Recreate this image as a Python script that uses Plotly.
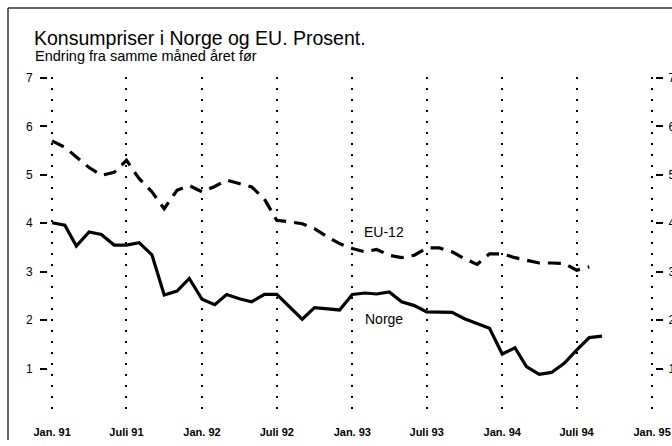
import pandas as pd
import plotly.graph_objects as go

# ---- data ----
start_month = "1991-01-01"
norge = [4.01, 3.96, 3.53, 3.82, 3.77, 3.55, 3.55, 3.60, 3.35, 2.52, 2.60, 2.86,
         2.43, 2.32, 2.53, 2.44, 2.38, 2.53, 2.53, 2.27, 2.02, 2.26, 2.24, 2.21,
         2.53, 2.56, 2.54, 2.58, 2.38, 2.30, 2.17, 2.17, 2.16, 2.03, 1.92, 1.83,
         1.30, 1.43, 1.04, 0.88, 0.92, 1.11, 1.38, 1.64, 1.67]
eu12 = [5.70, 5.57, 5.37, 5.15, 4.99, 5.05, 5.30, 4.92, 4.65, 4.30, 4.68, 4.78,
        4.65, 4.76, 4.89, 4.82, 4.75, 4.50, 4.06, 4.03, 3.99, 3.89, 3.72, 3.58,
        3.48, 3.41, 3.46, 3.34, 3.29, 3.34, 3.49, 3.49, 3.41, 3.27, 3.15, 3.37,
        3.37, 3.29, 3.24, 3.18, 3.18, 3.17, 3.03, 3.10]
tick_dates = ["1991-01-01", "1991-07-01", "1992-01-01", "1992-07-01", "1993-01-01",
              "1993-07-01", "1994-01-01", "1994-07-01", "1995-01-01"]
tick_labels = ["Jan. 91", "Juli 91", "Jan. 92", "Juli 92", "Jan. 93",
               "Juli 93", "Jan. 94", "Juli 94", "Jan. 95"]
y_ticks = [1, 2, 3, 4, 5, 6, 7]

x_norge = pd.date_range(start_month, periods=len(norge), freq="MS")
x_eu = pd.date_range(start_month, periods=len(eu12), freq="MS")

FONT = "Liberation Sans, Arial, sans-serif"
W, H = 672, 446
L, R, T, B = 48, 17, 77, 29
pw, ph = W - L - R, H - T - B

def px_x(p):
    return (p - L) / pw

def px_y(p):
    return (H - B - p) / ph

fig = go.Figure()
fig.add_trace(go.Scatter(x=x_eu, y=eu12, mode="lines", name="EU-12",
                         line=dict(color="black", width=3.2, dash="13px,8px"),
                         showlegend=False))
fig.add_trace(go.Scatter(x=x_norge, y=norge, mode="lines", name="Norge",
                         line=dict(color="black", width=3.2),
                         showlegend=False))
# invisible trace for right axis
fig.add_trace(go.Scatter(x=[x_norge[0]], y=[norge[0]], yaxis="y2", mode="lines",
                         line=dict(width=0), hoverinfo="skip", showlegend=False))

fig.update_layout(
    width=W, height=H,
    margin=dict(l=L, r=R, t=T, b=B, autoexpand=False),
    paper_bgcolor="white", plot_bgcolor="white",
    font=dict(family=FONT, color="black"),
    xaxis=dict(
        type="date", range=["1990-12-22", "1995-01-08"],
        tickmode="array", tickvals=tick_dates, ticktext=tick_labels,
        ticks="", showline=False, zeroline=False,
        ticklabelstandoff=7,
        showgrid=True, gridcolor="black", gridwidth=2, griddash="2px,9px",
        tickfont=dict(family=FONT, size=11, color="black", weight="bold"),
    ),
    yaxis=dict(
        range=[0, 7.02], tickmode="array", tickvals=y_ticks,
        ticks="outside", ticklen=7, tickwidth=2, tickcolor="black",
        ticklabelstandoff=5,
        showgrid=False, zeroline=False, showline=False,
        tickfont=dict(family=FONT, size=12, color="black"),
    ),
    yaxis2=dict(
        range=[0, 7.02], tickmode="array", tickvals=y_ticks,
        overlaying="y", side="right",
        ticks="outside", ticklen=7, tickwidth=2, tickcolor="black",
        ticklabelstandoff=3,
        showgrid=False, zeroline=False, showline=False,
        tickfont=dict(family=FONT, size=12, color="black"),
    ),
)

# frame lines (left and top)
fig.add_shape(type="line", xref="paper", yref="paper",
              x0=px_x(8), x1=px_x(8), y0=px_y(8), y1=px_y(440),
              line=dict(color="#333333", width=1.5))
fig.add_shape(type="line", xref="paper", yref="paper",
              x0=px_x(8), x1=px_x(680), y0=px_y(8), y1=px_y(8),
              line=dict(color="#333333", width=1.5))

fig.add_annotation(text="Konsumpriser i Norge og EU. Prosent.", xref="paper", yref="paper",
                   x=px_x(32), y=px_y(38), xanchor="left", yanchor="middle",
                   showarrow=False, font=dict(family=FONT, size=19.5, color="black"))
fig.add_annotation(text="Endring fra samme måned året før", xref="paper", yref="paper",
                   x=px_x(33), y=px_y(56), xanchor="left", yanchor="middle",
                   showarrow=False, font=dict(family=FONT, size=14.5, color="black"))
fig.add_annotation(text="EU-12", x="1993-03-20", y=3.83, xanchor="center", yanchor="middle",
                   showarrow=False, font=dict(family=FONT, size=14, color="black"))
fig.add_annotation(text="Norge", x="1993-03-18", y=2.02, xanchor="center", yanchor="middle",
                   showarrow=False, font=dict(family=FONT, size=14, color="black"))

fig.write_html("out.html", config={"displayModeBar": False},
               post_script="document.body.style.margin='0';")
